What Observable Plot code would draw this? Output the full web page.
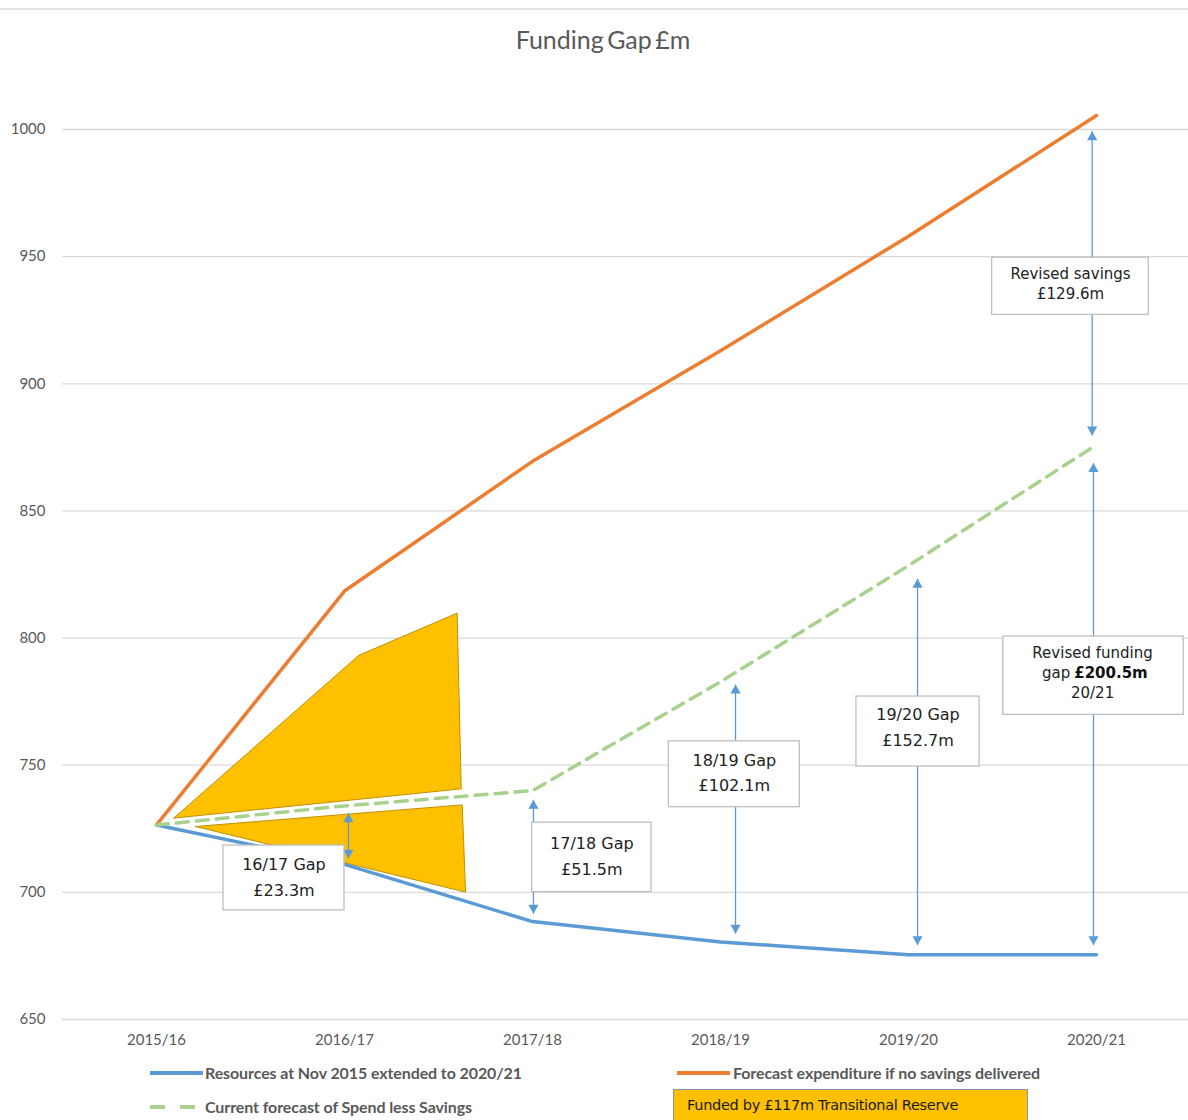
<!DOCTYPE html>
<html><head><meta charset="utf-8">
<script src="https://cdn.jsdelivr.net/npm/d3@7"></script>
<script src="https://cdn.jsdelivr.net/npm/@observablehq/plot@0.6"></script>
<style>
body{margin:0;background:#fff;}
#wrap{position:relative;width:1188px;height:1120px;overflow:hidden;background:#fff;font-family:Lato,sans-serif;}
#wrap svg{position:absolute;left:0;top:0;}
.abs{position:absolute;white-space:nowrap;}
.topline{left:0;top:8px;width:1188px;height:0;border-top:2px solid #e2e2e2;}
.title{left:403px;width:400px;top:24px;text-align:center;font-size:25px;color:#595959;word-spacing:-3px;}
.sw{height:0;}
.lg{font-size:16px;font-weight:bold;color:#595959;height:20px;line-height:20px;letter-spacing:-0.1px;}
.fund{left:673px;top:1089px;width:355px;height:40px;background:#FFC000;border:1px solid #8497b0;box-sizing:border-box;}
.fundtxt{left:687px;top:1095px;font-family:"DejaVu Sans",sans-serif;font-size:14.5px;color:#1a1a1a;height:20px;line-height:20px;letter-spacing:-0.3px;}
</style></head><body>
<div id="wrap"></div>
<script>
// ---- data ----
const years = ["2015/16","2016/17","2017/18","2018/19","2019/20","2020/21"];
const resources = [726.5, 711, 688.5, 680.5, 675.5, 675.5];
const forecastSpend = [726.5, 818.5, 869.5, 913, 958, 1005.5];
const currentForecast = [726.5, 734, 740, 782.8, 828.5, 876];
const yTicks = [650, 700, 750, 800, 850, 900, 950, 1000];

const seriesNames = ["Resources at Nov 2015 extended to 2020/21", "Forecast expenditure if no savings delivered", "Current forecast of Spend less Savings"];
const reserveLabel = "Funded by £117m Transitional Reserve";

// shaded "transitional reserve" shapes (x in year index, y in £m)
const upperShapeX = [0.092, 1.076, 1.599, 1.621, 0.092];
const upperShapeY = [729.2, 793.2, 809.8, 740.7, 729.2];
const lowerShapeX = [0.207, 1.626, 1.644, 0.207];
const lowerShapeY = [725.9, 734.4, 700.1, 725.9];

// gap arrows
const arrowX = [1.021, 2.005, 3.080, 4.048, 4.984, 4.977];
const arrowTop = [731.1, 736.4, 781.7, 823.3, 868.8, 999.3];
const arrowBottom = [713.3, 691.6, 683.8, 679.3, 679.3, 879.7];

// gap label boxes
const gapLabels = ["16/17 Gap\n£23.3m", "17/18 Gap\n£51.5m", "18/19 Gap\n£102.1m", "19/20 Gap\n£152.7m"];
const gapBoxLeft = [0.356, 1.998, 2.725, 3.723];
const gapBoxRight = [1.0, 2.633, 3.422, 4.378];
const gapBoxTop = [718.4, 727.4, 759.4, 777.0];
const gapBoxBottom = [692.9, 700.1, 733.5, 749.5];
const gapTextY = [705.8, 714.0, 746.8, 764.8];

const savingsLabel = "Revised savings\n£129.6m";
const savingsBox = [4.445, 5.278, 949.6, 927.1];
const fundingLines = ["Revised funding", "gap", "£200.5m", "20/21"];
const fundingBox = [4.504, 5.464, 800.6, 769.8];

// ---- build tables ----
const toRows = (vals) => vals.map((v, i) => ({x: i, y: v}));
const shapeRows = (xs, ys) => xs.map((x, i) => ({x, y: ys[i]}));
const arrows = arrowX.map((x, i) => ({x, top: arrowTop[i], bottom: arrowBottom[i]}));
const gapBoxes = gapLabels.map((t, i) => ({t, x1: gapBoxLeft[i], x2: gapBoxRight[i], y1: gapBoxTop[i], y2: gapBoxBottom[i], ty: gapTextY[i]}));
const otherBoxes = [
  {x1: savingsBox[0], x2: savingsBox[1], y1: savingsBox[2], y2: savingsBox[3]},
  {x1: fundingBox[0], x2: fundingBox[1], y1: fundingBox[2], y2: fundingBox[3]}
];
const blue = "#5B9BD5", orange = "#ED7D31", green = "#A9D18E", gold = "#FFC000";
const boxFont = "DejaVu Sans, sans-serif";

const chart = Plot.plot({
  width: 1188, height: 1060,
  marginTop: 129, marginBottom: 41, marginLeft: 62, marginRight: 0,
  x: {domain: [-0.5, 5.5], range: [62, 1190], label: null},
  y: {domain: [650, 1000], label: null},
  style: {fontFamily: "Lato, sans-serif", background: "transparent", overflow: "visible"},
  marks: [
    Plot.gridY(yTicks, {stroke: "#d9d9d9", strokeOpacity: 1, strokeWidth: 1.3}),
    Plot.axisY(yTicks, {tickSize: 0, tickPadding: 17, fontSize: 15, color: "#595959", label: null, tickFormat: d => String(d)}),
    Plot.axisX(years.map((_, i) => i), {tickSize: 0, tickPadding: 15, fontSize: 15, color: "#595959", tickFormat: i => years[i], label: null}),
    Plot.line(shapeRows(upperShapeX, upperShapeY), {x: "x", y: "y", fill: gold, stroke: "#C09000", strokeWidth: 1, curve: "linear"}),
    Plot.line(shapeRows(lowerShapeX, lowerShapeY), {x: "x", y: "y", fill: gold, stroke: "#C09000", strokeWidth: 1, curve: "linear"}),
    Plot.line(toRows(resources), {x: "x", y: "y", stroke: blue, strokeWidth: 3.5}),
    Plot.line(toRows(forecastSpend), {x: "x", y: "y", stroke: orange, strokeWidth: 3.5}),
    Plot.line(toRows(currentForecast), {x: "x", y: "y", stroke: green, strokeWidth: 3.5, strokeDasharray: "12,8"}),
    Plot.link(arrows, {x1: "x", x2: "x", y1: "top", y2: "bottom", stroke: blue, strokeWidth: 1.3}),
    Plot.dot(arrows, {x: "x", y: "top", symbol: "triangle", r: 3.8, fill: blue, stroke: "none", dy: 5.9}),
    Plot.dot(arrows, {x: "x", y: "bottom", symbol: "triangle", r: 3.8, fill: blue, stroke: "none", rotate: 180, dy: -5.9}),
    Plot.rect(gapBoxes, {x1: "x1", x2: "x2", y1: "y1", y2: "y2", fill: "white", stroke: "#bfbfbf", strokeWidth: 1.3}),
    Plot.rect(otherBoxes, {x1: "x1", x2: "x2", y1: "y1", y2: "y2", fill: "white", stroke: "#bfbfbf", strokeWidth: 1.3}),
    Plot.text(gapBoxes, {x: d => (d.x1 + d.x2) / 2, y: "ty", text: "t", fontFamily: boxFont, fontSize: 16, lineHeight: 1.6, fill: "#222", dy: -3}),
    Plot.text([savingsLabel], {x: 4.862, y: 939.3, text: d => d, fontFamily: boxFont, fontSize: 15, lineHeight: 1.3, fill: "#222", dy: -1}),
    Plot.text([fundingLines[0]], {x: 4.979, y: 794.0, text: d => d, fontFamily: boxFont, fontSize: 15, fill: "#222"}),
    Plot.text([fundingLines[1]], {x: 4.876, y: 786.2, text: d => d, fontFamily: boxFont, fontSize: 15, fill: "#222", textAnchor: "end", dx: -3}),
    Plot.text([fundingLines[2]], {x: 4.876, y: 786.2, text: d => d, fontFamily: boxFont, fontSize: 15, fill: "#111", textAnchor: "start", fontWeight: "bold", dx: 1}),
    Plot.text([fundingLines[3]], {x: 4.979, y: 778.4, text: d => d, fontFamily: boxFont, fontSize: 15, fill: "#222"})
  ]
});

const wrap = document.getElementById("wrap");
wrap.appendChild(chart);

function addDiv(cls, style, text) {
  const d = document.createElement("div");
  d.className = "abs " + cls;
  Object.assign(d.style, style);
  if (text != null) d.textContent = text;
  wrap.appendChild(d);
  return d;
}
addDiv("topline", {});
addDiv("title", {}, "Funding Gap £m");
// legend
addDiv("sw", {left: "150px", top: "1071px", width: "53px", borderTop: "4px solid " + blue});
addDiv("lg", {left: "205px", top: "1063px"}, seriesNames[0]);
addDiv("sw", {left: "677px", top: "1071px", width: "53px", borderTop: "4px solid " + orange});
addDiv("lg", {left: "733px", top: "1063px"}, seriesNames[1]);
addDiv("sw", {left: "150px", top: "1105px", width: "15px", borderTop: "4px solid " + green});
addDiv("sw", {left: "180px", top: "1105px", width: "15px", borderTop: "4px solid " + green});
addDiv("lg", {left: "205px", top: "1097px"}, seriesNames[2]);
addDiv("fund", {});
addDiv("fundtxt", {}, reserveLabel);
</script>
</body></html>
